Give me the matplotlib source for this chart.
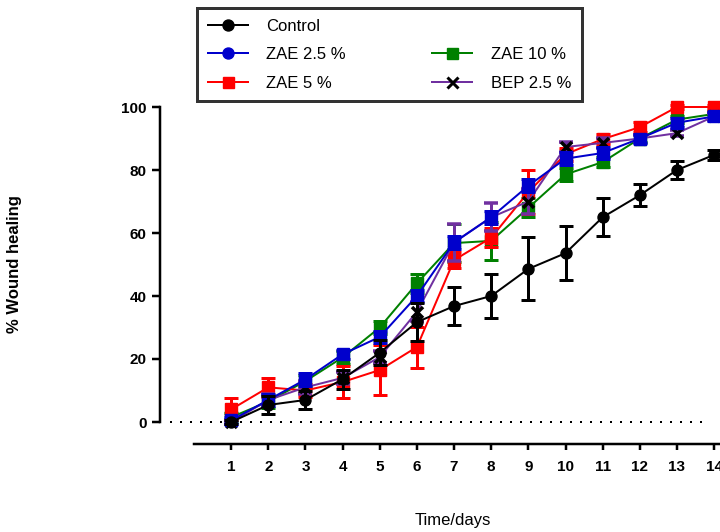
import matplotlib
matplotlib.use("Agg")
import matplotlib.pyplot as plt
from matplotlib.lines import Line2D

plt.rcParams["font.family"] = ["Liberation Sans", "DejaVu Sans"]

# 데이터
days = [1, 2, 3, 4, 5, 6, 7, 8, 9, 10, 11, 12, 13, 14]

control = [0, 5.4, 7, 13.6, 22, 31.7, 36.8, 40, 48.6, 53.6, 65, 72, 80, 84.8]
control_err = [0.5, 3, 3, 3, 4, 6, 6, 7, 10, 8.5, 6, 3.5, 3, 1.5]

zae25 = [0.5, 7, 13.5, 21.5, 27, 40, 57, 65, 75, 83.6, 85.4, 90, 95, 97]
zae25_err = [1, 2, 2, 1.5, 2, 2, 2, 2, 2, 2, 2, 1.5, 1.5, 1.5]

zae5 = [4, 11, 10, 12.7, 16.5, 23.8, 51.4, 58.5, 73, 85, 89.8, 93.6, 100, 100]
zae5_err = [3.5, 3, 2, 5, 8, 6.5, 2.5, 3, 7, 2, 1.5, 1.5, 0.5, 0.5]

zae10 = [1.5, 6.5, 13, 20.5, 30, 44, 56.8, 57.5, 68, 78.6, 82.5, 90, 96, 97.8]
zae10_err = [1.5, 2, 2, 2, 2, 3, 6, 6, 3, 2, 1.5, 1, 1, 1]

bep25 = [0, 7, 11, 14, 20.6, 35, 57, 65, 70, 87.3, 88.6, 90, 91.7, 97]
bep25_err = [0.5, 2, 2, 2, 2, 3, 6, 4.5, 4, 1.5, 1.5, 1, 1, 1]

fig = plt.figure(figsize=(7.2, 5.32), dpi=100)
ax = fig.add_axes([194 / 720, 1 - 422 / 532, 526 / 720, 315 / 532])

px = 0.72  # 1 pixel in points

# 점선 기준선 (y=0)
ax.plot([-0.65, 13.9], [0, 0], linestyle=(0, (1, 4)), color="black",
        linewidth=2 * px, clip_on=False, zorder=1)

common = dict(linewidth=2 * px, elinewidth=3 * px, capsize=7 * px,
              capthick=3 * px, clip_on=False)

ax.errorbar(days, zae10, yerr=zae10_err, color="#008000", marker="s",
            markersize=12 * px, zorder=2, **common)
ax.errorbar(days, zae5, yerr=zae5_err, color="#FF0000", marker="s",
            markersize=12 * px, zorder=3, **common)
ax.errorbar(days, bep25, yerr=bep25_err, color="#7030A0", marker="x",
            markersize=11 * px, markeredgecolor="black", markeredgewidth=3.5 * px,
            zorder=4, **common)
ax.errorbar(days, zae25, yerr=zae25_err, color="#0000CC", marker="s",
            markersize=12 * px, zorder=5, **common)
ax.errorbar(days, control, yerr=control_err, color="black", marker="o",
            markersize=11 * px, zorder=6, **common)

ax.set_xlim(0, 526 / 37.15)
ax.set_ylim(0, 100)
ax.set_xticks(days)
ax.set_yticks([0, 20, 40, 60, 80, 100])

for s in ["top", "right"]:
    ax.spines[s].set_visible(False)
ax.spines["left"].set_position(("outward", 34 * px))
ax.spines["bottom"].set_position(("outward", 22 * px))
ax.spines["left"].set_linewidth(2.5 * px)
ax.spines["bottom"].set_linewidth(2.5 * px)

ax.tick_params(axis="both", direction="out", width=2.5 * px, labelsize=11)
ax.tick_params(axis="y", length=8 * px, pad=4)
ax.tick_params(axis="x", length=6 * px, pad=7)
for lab in ax.get_xticklabels() + ax.get_yticklabels():
    lab.set_fontweight("bold")

ax.set_ylabel("% Wound healing", fontsize=12, fontweight="bold")
ax.yaxis.set_label_coords((22 - 194) / 526, 0.5)
ax.set_xlabel("Time/days", fontsize=12)
ax.xaxis.set_label_coords((453 - 194) / 526, (422 - 513) / 315)

# 범례 (2열, 첫 번째 행 오른쪽은 비어 있음)
def handle(color, marker, mec=None):
    return Line2D([], [], color=color, marker=marker, linewidth=2 * px,
                  markersize=11 * px, markeredgecolor=mec or color,
                  markeredgewidth=3 * px if marker == "x" else 1)

blank = Line2D([], [], linestyle="none")
handles = [handle("black", "o"), handle("#0000CC", "o"), handle("#FF0000", "s"),
           blank, handle("#008000", "s"), handle("#7030A0", "x", "black")]
labels = ["Control", "ZAE 2.5 %", "ZAE 5 %", "", "ZAE 10 %", "BEP 2.5 %"]

leg = fig.legend(handles, labels, ncol=2, loc="upper left",
                 bbox_to_anchor=(197 / 720, 1 - 8 / 532), fontsize=12,
                 frameon=True, fancybox=False, handlelength=2.4,
                 handletextpad=1.1, columnspacing=5.2, labelspacing=0.8,
                 borderpad=0.65, borderaxespad=0)
leg.get_frame().set_edgecolor("black")
leg.get_frame().set_linewidth(3 * px)

fig.savefig("out.png", dpi=100)
